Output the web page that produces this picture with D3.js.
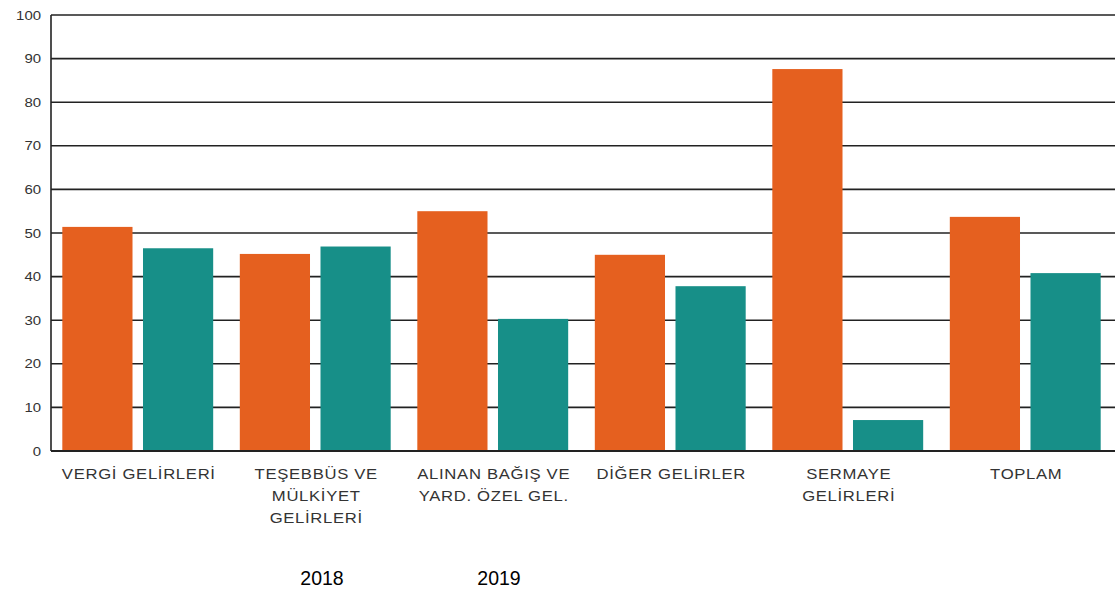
<!DOCTYPE html>
<html><head><meta charset="utf-8">
<script src="https://cdn.jsdelivr.net/npm/d3@7"></script>
<style>body{margin:0;background:#fff}svg{display:block}</style>
</head><body>
<svg id="c" width="1115" height="592"></svg>
<script>
const categories = [
  ["VERGİ GELİRLERİ"],
  ["TEŞEBBÜS VE","MÜLKİYET","GELİRLERİ"],
  ["ALINAN BAĞIŞ VE","YARD. ÖZEL GEL."],
  ["DİĞER GELİRLER"],
  ["SERMAYE","GELİRLERİ"],
  ["TOPLAM"]
];
const series = ["2018","2019"];
const values2018 = [51.4, 45.2, 55.0, 45.0, 87.6, 53.7];
const values2019 = [46.5, 46.9, 30.3, 37.8, 7.1, 40.8];
const yTicks = [0,10,20,30,40,50,60,70,80,90,100];
const colors = ["#E5601F","#178F88"];

const FONT = "Liberation Sans, Arial, sans-serif";
const svg = d3.select("#c");
const x0 = d3.scaleBand().domain(d3.range(categories.length)).range([49,1114]).paddingInner(0.15).paddingOuter(0.075);
const x1 = d3.scaleBand().domain(series).range([0, x0.bandwidth()]).paddingInner(0.13);
const y = d3.scaleLinear().domain([0,100]).range([451,15]);

// gridlines
svg.append("g").selectAll("line").data(yTicks).join("line")
  .attr("x1",51).attr("x2",1115).attr("y1",d=>y(d)).attr("y2",d=>y(d))
  .attr("stroke","#222").attr("stroke-width",1.6);

// bars
const data = categories.map((c,i)=>({i, vals:[values2018[i], values2019[i]]}));
const g = svg.append("g").selectAll("g").data(data).join("g")
  .attr("transform",d=>`translate(${x0(d.i)},0)`);
g.selectAll("rect").data(d=>d.vals.map((v,k)=>({v,k}))).join("rect")
  .attr("x",d=>x1(series[d.k])).attr("width",x1.bandwidth())
  .attr("y",d=>y(d.v)).attr("height",d=>y(0)-y(d.v))
  .attr("fill",d=>colors[d.k]);

// axis lines
svg.append("line").attr("x1",51).attr("x2",51).attr("y1",y(100)).attr("y2",y(0)).attr("stroke","#222").attr("stroke-width",1.6);
svg.append("line").attr("x1",51).attr("x2",1115).attr("y1",y(0)).attr("y2",y(0)).attr("stroke","#222").attr("stroke-width",1.8);

// y axis labels
svg.append("g").selectAll("text").data(yTicks).join("text")
  .attr("transform",d=>`translate(41,${y(d)+4.5}) scale(1.15,1)`)
  .attr("text-anchor","end").attr("font-family",FONT).attr("font-size",13).attr("fill","#333")
  .text(d=>d);

// category labels
const cl = svg.append("g").selectAll("text").data(categories).join("text")
  .attr("transform",(d,i)=>`translate(${x0(i)+x0.bandwidth()/2+1},479) scale(1.15,1)`)
  .attr("text-anchor","middle").attr("font-family",FONT)
  .attr("font-size",14.5).attr("letter-spacing",0.6).attr("fill","#333");
cl.selectAll("tspan").data(d=>d).join("tspan")
  .attr("x",0).attr("dy",(d,j)=>j===0?0:22).text(d=>d);

// legend (text only)
const legendX = [322, 499];
svg.append("g").selectAll("text").data(series).join("text")
  .attr("x",(d,i)=>legendX[i]).attr("y",585).attr("text-anchor","middle")
  .attr("font-family",FONT).attr("font-size",19.5).attr("fill","#000")
  .text(d=>d);
</script>
</body></html>
